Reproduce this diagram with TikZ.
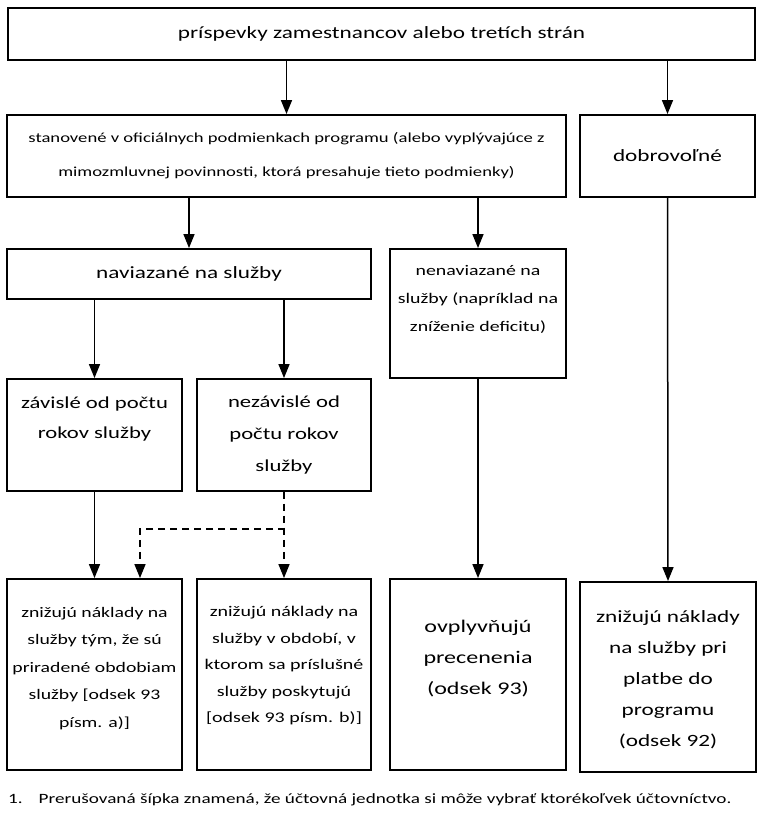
\documentclass[tikz,border=0pt]{standalone}
\usepackage{fontspec}
\setmainfont{Carlito}[FakeStretch=1.35]
\usetikzlibrary{arrows.meta,positioning}
\newcommand{\boxfontL}{\fontsize{17.2}{31}\selectfont}
\newcommand{\boxfontS}{\fontsize{14.6}{27.5}\selectfont}

\begin{document}
\begin{tikzpicture}[x=1pt, y=-1pt,
  box/.style={rectangle, draw, line width=1.9pt, inner sep=0pt, align=center},
  txt/.style={inner sep=0pt, align=center, execute at begin node=\strut},
  arr/.style={-{Triangle[length=14pt, width=11pt]}, line width=1.5pt},
  opt/.style={arr, dash pattern=on 7pt off 5pt}
]
  \fill[white] (0,0) rectangle (763,816);
  \useasboundingbox (0,0) rectangle (763,816);

  % first two levels
  \node[box, minimum width=747pt, minimum height=52pt, font=\boxfontL] (contrib) at (381.5,34) {príspevky zamestnancov alebo tretích strán};
  \node[box, minimum width=559pt, minimum height=82pt, font=\fontsize{13.8}{34}\selectfont] (terms) at (286.5,156) {stanovené v oficiálnych podmienkach programu (alebo vyplývajúce z\\mimozmluvnej povinnosti, ktorá presahuje tieto podmienky)};
  \node[box, minimum width=175pt, minimum height=82pt, font=\boxfontL] (volunt) at (667.5,156) {dobrovoľné};

  % linked / not linked to service
  \node[box, minimum width=364pt, minimum height=50pt, font=\boxfontL] (linked) at (189,274) {naviazané na služby};
  \node[box, minimum width=176pt, minimum height=129pt] (unlinked) at (478,313.5) {};
  \node[txt, font=\fontsize{14.7}{28}\selectfont, below=17pt of unlinked.north] (unlinkedT) {nenaviazané na\\služby (napríklad na\\zníženie deficitu)};

  \node[box, minimum width=175pt, minimum height=112pt] (dep) at (94.5,435) {};
  \node[txt, font=\fontsize{16.8}{30}\selectfont, below=19pt of dep.north] (depT) {závislé od počtu\\rokov služby};
  \node[box, minimum width=174pt, minimum height=112pt] (indep) at (284,435) {};
  \node[txt, font=\fontsize{16.8}{32}\selectfont, below=18pt of indep.north] (indepT) {nezávislé od\\počtu rokov\\služby};

  % bottom row
  \node[box, minimum width=175pt, minimum height=191pt] (attr) at (94.5,674.5) {};
  \node[txt, font=\boxfontS, below=29pt of attr.north] (attrT) {znižujú náklady na\\služby tým, že sú\\priradené obdobiam\\služby {[}odsek 93\\písm. a)]};
  \node[box, minimum width=174pt, minimum height=191pt] (period) at (284,674.5) {};
  \node[txt, font=\fontsize{14.8}{26.5}\selectfont, below=28pt of period.north] (periodT) {znižujú náklady na\\služby v období, v\\ktorom sa príslušné\\služby poskytujú\\{[}odsek 93 písm. b)]};
  \node[box, minimum width=176pt, minimum height=191pt] (remeas) at (478,674.5) {};
  \node[txt, font=\fontsize{17.8}{31}\selectfont, below=42pt of remeas.north] (remeasT) {ovplyvňujú\\precenenia\\(odsek 93)};
  \node[box, minimum width=176pt, minimum height=190pt] (paid) at (668,677) {};
  \node[txt, font=\boxfontL, below=29pt of paid.north] (paidT) {znižujú náklady\\na služby pri\\platbe do\\programu\\(odsek 92)};

  \node[inner sep=0pt, anchor=west, font=\fontsize{14.2}{17}\selectfont] (note) at (8,800) {1.\hspace{16pt}Prerušovaná šípka znamená, že účtovná jednotka si môže vybrať ktorékoľvek účtovníctvo.};

  % connectors
  \draw[arr] (contrib.south -| terms.north) -- (terms.north);
  \draw[arr] (contrib.south -| volunt.north) -- (volunt.north);
  \draw[arr] (terms.south -| linked.north) -- (linked.north);
  \draw[arr] (terms.south -| unlinked.north) -- (unlinked.north);
  \draw[arr] (linked.south -| dep.north) -- (dep.north);
  \draw[arr] (linked.south -| indep.north) -- (indep.north);
  \draw[arr] (dep.south) -- (attr.north);
  \draw[opt] (indep.south) -- (period.north);
  \draw[opt] (indep.south) -- ++(0,37) -| ([xshift=45.5pt]attr.north);
  \draw[arr] (unlinked.south) -- (remeas.north);
  \draw[arr] (volunt.south) -- (paid.north);
\end{tikzpicture}
\end{document}
